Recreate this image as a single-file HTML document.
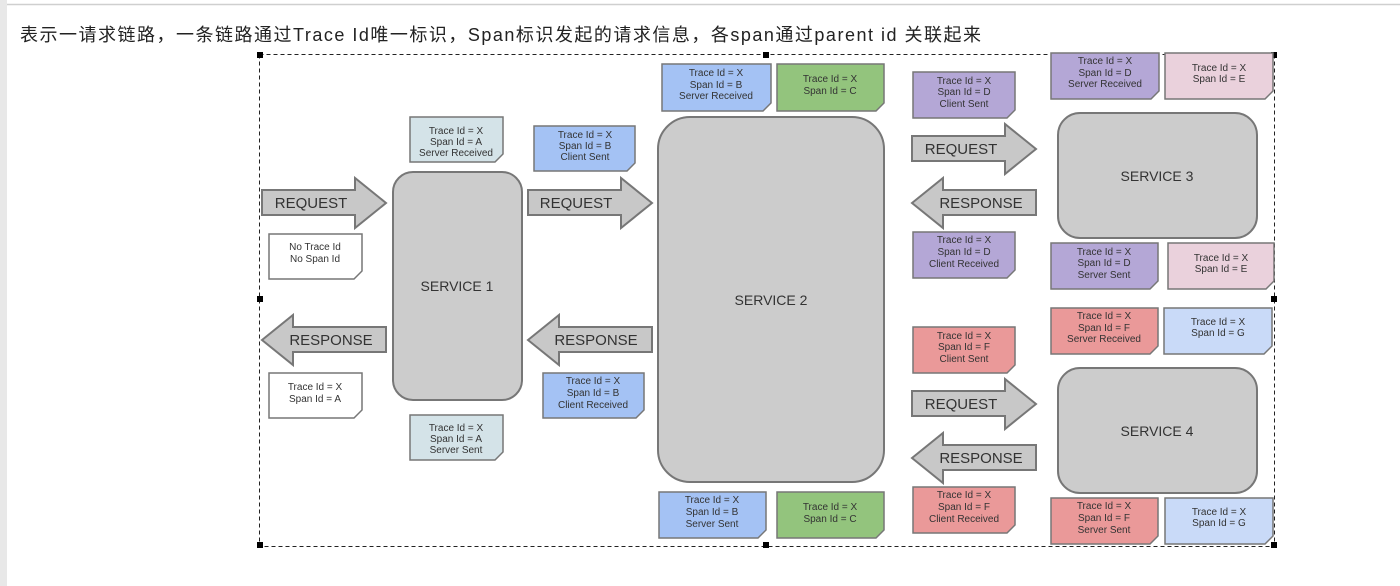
<!DOCTYPE html>
<html><head><meta charset="utf-8">
<style>
html,body{margin:0;padding:0;background:#fff;}
body{width:1400px;height:586px;overflow:hidden;position:relative;}
.cap{position:absolute;left:20px;top:21px;font:18px "Liberation Sans","Noto Sans CJK SC",sans-serif;letter-spacing:1.5px;color:#222;white-space:nowrap;}
svg{position:absolute;left:0;top:0;}
.n text{font:10px "Liberation Sans",sans-serif;fill:#333;text-anchor:middle;}
.a{fill:#c8c8c8;stroke:#777;stroke-width:2;}
.at{font:15px "Liberation Sans",sans-serif;fill:#333;text-anchor:middle;}
.s{fill:#cccccc;stroke:#777;stroke-width:2;}
.st{font:14px "Liberation Sans",sans-serif;fill:#333;text-anchor:middle;}
.n polygon{stroke:#777;stroke-width:1.5;}
</style></head><body>
<svg width="1400" height="586" viewBox="0 0 1400 586">
<rect x="0" y="0" width="7" height="586" fill="#e8e8e8"/>
<line x1="7" y1="4.5" x2="1400" y2="4.5" stroke="#cfcfcf" stroke-width="1.5"/>
<rect x="259.5" y="54.5" width="1015" height="492" fill="none" stroke="#222" stroke-width="1" stroke-dasharray="4,3"/>
<g fill="#000">
<rect x="257" y="52" width="6" height="6"/><rect x="763" y="52" width="6" height="6"/><rect x="1271" y="52" width="6" height="6"/>
<rect x="257" y="296" width="6" height="6"/><rect x="1271" y="296" width="6" height="6"/>
<rect x="257" y="542" width="6" height="6"/><rect x="763" y="542" width="6" height="6"/><rect x="1271" y="542" width="6" height="6"/>
</g>

<rect class="s" x="393" y="172" width="129" height="228" rx="20"/>
<text class="st" x="457" y="291">SERVICE 1</text>
<rect class="s" x="658" y="117" width="226" height="365" rx="32"/>
<text class="st" x="771" y="305">SERVICE 2</text>
<rect class="s" x="1058" y="113" width="199" height="125" rx="22"/>
<text class="st" x="1157" y="181">SERVICE 3</text>
<rect class="s" x="1058" y="368" width="199" height="125" rx="22"/>
<text class="st" x="1157" y="436">SERVICE 4</text>

<polygon class="a" points="262,190 355,190 355,178 386,203 355,228 355,215 262,215"/>
<text class="at" x="311" y="208">REQUEST</text>
<polygon class="a" points="262,340 293,315 293,327 386,327 386,352 293,352 293,365"/>
<text class="at" x="331" y="345">RESPONSE</text>
<polygon class="a" points="528,190 621,190 621,178 652,203 621,228 621,215 528,215"/>
<text class="at" x="576" y="208">REQUEST</text>
<polygon class="a" points="528,340 559,315 559,327 652,327 652,352 559,352 559,365"/>
<text class="at" x="596" y="345">RESPONSE</text>
<polygon class="a" points="912,136 1005,136 1005,124 1036,149 1005,174 1005,161 912,161"/>
<text class="at" x="961" y="154">REQUEST</text>
<polygon class="a" points="912,203 943,178 943,190 1036,190 1036,215 943,215 943,228"/>
<text class="at" x="981" y="208">RESPONSE</text>
<polygon class="a" points="912,391 1005,391 1005,379 1036,404 1005,429 1005,416 912,416"/>
<text class="at" x="961" y="409">REQUEST</text>
<polygon class="a" points="912,458 943,433 943,445 1036,445 1036,470 943,470 943,483"/>
<text class="at" x="981" y="463">RESPONSE</text>

<g class="n">
<polygon fill="#d4e3e8" points="410,117 503,117 503,154 495,162 410,162"/>
<text x="456" y="134">Trace Id = X</text><text x="456" y="145">Span Id = A</text><text x="456" y="156">Server Received</text>

<polygon fill="#a4c2f4" points="534,126 635,126 635,163 627,171 534,171"/>
<text x="585" y="138">Trace Id = X</text><text x="585" y="149">Span Id = B</text><text x="585" y="160">Client Sent</text>

<polygon fill="#ffffff" points="269,234 362,234 362,271 354,279 269,279"/>
<text x="315" y="250">No Trace Id</text><text x="315" y="262">No Span Id</text>

<polygon fill="#ffffff" points="269,373 362,373 362,410 354,418 269,418"/>
<text x="315" y="390">Trace Id = X</text><text x="315" y="402">Span Id = A</text>

<polygon fill="#d4e3e8" points="410,415 503,415 503,452 495,460 410,460"/>
<text x="456" y="431">Trace Id = X</text><text x="456" y="442">Span Id = A</text><text x="456" y="453">Server Sent</text>

<polygon fill="#a4c2f4" points="543,373 644,373 644,410 636,418 543,418"/>
<text x="593" y="384">Trace Id = X</text><text x="593" y="396">Span Id = B</text><text x="593" y="408">Client Received</text>

<polygon fill="#a4c2f4" points="662,64 771,64 771,103 763,111 662,111"/>
<text x="716" y="76">Trace Id = X</text><text x="716" y="88">Span Id = B</text><text x="716" y="99">Server Received</text>

<polygon fill="#93c47d" points="777,64 884,64 884,103 876,111 777,111"/>
<text x="830" y="82">Trace Id = X</text><text x="830" y="94">Span Id = C</text>

<polygon fill="#a4c2f4" points="659,492 766,492 766,530 758,538 659,538"/>
<text x="712" y="503">Trace Id = X</text><text x="712" y="515">Span Id = B</text><text x="712" y="527">Server Sent</text>

<polygon fill="#93c47d" points="777,492 884,492 884,530 876,538 777,538"/>
<text x="830" y="510">Trace Id = X</text><text x="830" y="522">Span Id = C</text>

<polygon fill="#b4a7d6" points="913,72 1015,72 1015,110 1007,118 913,118"/>
<text x="964" y="84">Trace Id = X</text><text x="964" y="95">Span Id = D</text><text x="964" y="107">Client Sent</text>

<polygon fill="#b4a7d6" points="1051,53 1159,53 1159,91 1151,99 1051,99"/>
<text x="1105" y="64">Trace Id = X</text><text x="1105" y="76">Span Id = D</text><text x="1105" y="87">Server Received</text>

<polygon fill="#ead1dc" points="1165,53 1273,53 1273,91 1265,99 1165,99"/>
<text x="1219" y="71">Trace Id = X</text><text x="1219" y="82">Span Id = E</text>

<polygon fill="#b4a7d6" points="913,232 1015,232 1015,270 1007,278 913,278"/>
<text x="964" y="243">Trace Id = X</text><text x="964" y="255">Span Id = D</text><text x="964" y="267">Client Received</text>

<polygon fill="#b4a7d6" points="1051,243 1158,243 1158,281 1150,289 1051,289"/>
<text x="1104" y="255">Trace Id = X</text><text x="1104" y="266">Span Id = D</text><text x="1104" y="278">Server Sent</text>

<polygon fill="#ead1dc" points="1168,243 1274,243 1274,281 1266,289 1168,289"/>
<text x="1221" y="261">Trace Id = X</text><text x="1221" y="272">Span Id = E</text>

<polygon fill="#ea9999" points="913,327 1015,327 1015,365 1007,373 913,373"/>
<text x="964" y="339">Trace Id = X</text><text x="964" y="350">Span Id = F</text><text x="964" y="362">Client Sent</text>

<polygon fill="#ea9999" points="1051,308 1158,308 1158,346 1150,354 1051,354"/>
<text x="1104" y="319">Trace Id = X</text><text x="1104" y="331">Span Id = F</text><text x="1104" y="342">Server Received</text>

<polygon fill="#c9daf8" points="1164,308 1272,308 1272,346 1264,354 1164,354"/>
<text x="1218" y="325">Trace Id = X</text><text x="1218" y="336">Span Id = G</text>

<polygon fill="#ea9999" points="913,487 1015,487 1015,525 1007,533 913,533"/>
<text x="964" y="498">Trace Id = X</text><text x="964" y="510">Span Id = F</text><text x="964" y="522">Client Received</text>

<polygon fill="#ea9999" points="1051,498 1158,498 1158,536 1150,544 1051,544"/>
<text x="1104" y="509">Trace Id = X</text><text x="1104" y="521">Span Id = F</text><text x="1104" y="533">Server Sent</text>

<polygon fill="#c9daf8" points="1165,498 1273,498 1273,536 1265,544 1165,544"/>
<text x="1219" y="515">Trace Id = X</text><text x="1219" y="526">Span Id = G</text>
</g>
</svg>
<div class="cap">表示一请求链路，一条链路通过Trace Id唯一标识，Span标识发起的请求信息，各span通过parent id 关联起来</div>
</body></html>
